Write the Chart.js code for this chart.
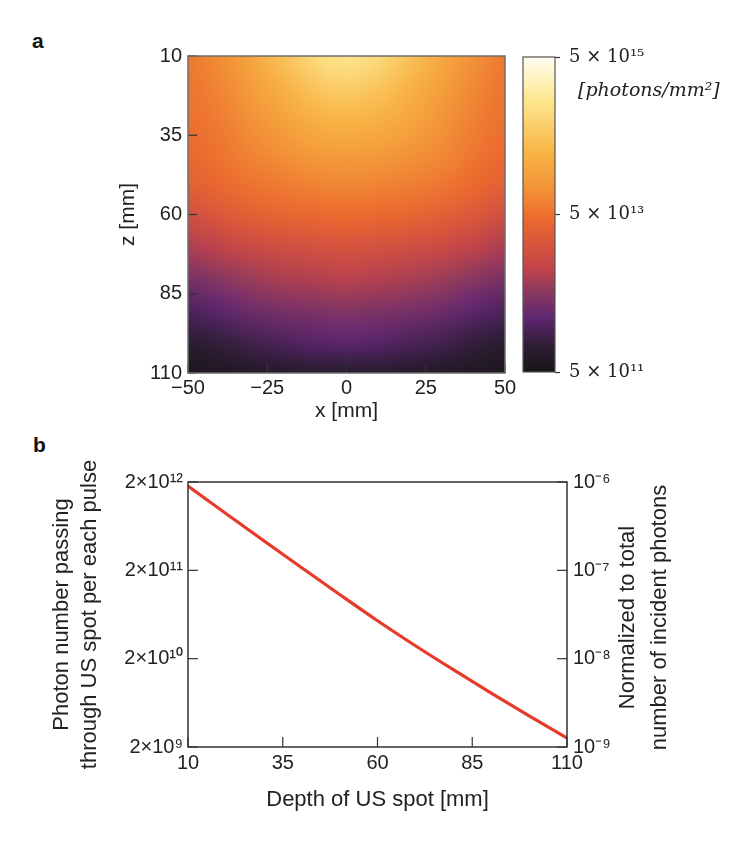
<!DOCTYPE html>
<html>
<head>
<meta charset="utf-8">
<script src="https://cdn.jsdelivr.net/npm/chart.js@4.4.0/dist/chart.umd.min.js"></script>
<style>
  html, body { margin: 0; padding: 0; background: #fff; }
  body { width: 748px; height: 842px; position: relative; overflow: hidden; }
  canvas { position: absolute; }
  .panel { position: absolute; font: bold 21px "Liberation Sans", Arial, sans-serif; line-height: 21px; color: #111; }
</style>
</head>
<body>
<div class="panel" style="left:32px;top:30px">a</div>
<div class="panel" style="left:33px;top:434px">b</div>
<canvas id="heat" width="530" height="430" style="left:0;top:0;width:530px;height:430px"></canvas>
<canvas id="cbar" width="233" height="430" style="left:515px;top:0;width:233px;height:430px"></canvas>
<canvas id="depth" width="748" height="412" style="left:0;top:430px;width:748px;height:412px"></canvas>
<script>
// panel a : fluence map, log10(photons/mm^2), rows = z, cols = x
var xCells = [-50, -40, -30, -20, -10, 0, 10, 20, 30, 40, 50];
var zCells = [10, 20, 30, 40, 50, 60, 70, 80, 90, 100, 110];
var logFluence = [
    [13.78, 13.98, 14.26, 14.66, 14.98, 15.14, 14.98, 14.66, 14.30, 14.02, 13.78],
    [13.74, 13.90, 14.14, 14.42, 14.70, 14.82, 14.70, 14.46, 14.18, 13.94, 13.74],
    [13.70, 13.82, 14.02, 14.22, 14.42, 14.50, 14.42, 14.26, 14.06, 13.86, 13.70],
    [13.62, 13.74, 13.90, 14.02, 14.14, 14.18, 14.14, 14.06, 13.94, 13.78, 13.62],
    [13.50, 13.62, 13.74, 13.82, 13.90, 13.94, 13.90, 13.86, 13.78, 13.66, 13.50],
    [13.22, 13.38, 13.50, 13.58, 13.62, 13.66, 13.62, 13.58, 13.50, 13.38, 13.22],
    [12.90, 13.02, 13.14, 13.22, 13.26, 13.30, 13.26, 13.22, 13.14, 13.02, 12.90],
    [12.58, 12.70, 12.82, 12.90, 12.94, 12.98, 12.94, 12.90, 12.82, 12.70, 12.58],
    [12.26, 12.38, 12.50, 12.58, 12.62, 12.66, 12.62, 12.58, 12.50, 12.38, 12.26],
    [11.98, 12.06, 12.18, 12.26, 12.34, 12.38, 12.34, 12.26, 12.18, 12.06, 11.98],
    [11.78, 11.82, 11.86, 11.90, 11.94, 11.94, 11.94, 11.90, 11.86, 11.82, 11.78]
];
var heatXTicks = [-50, -25, 0, 25, 50];
var heatZTicks = [10, 35, 60, 85, 110];
var cbTicks = [5e11, 5e13, 5e15];
var cbTickLabels = ['5 × 10¹¹', '5 × 10¹³', '5 × 10¹⁵'];

// panel b : photons through the US spot
var depthMm = [10, 20, 30, 40, 50, 60, 70, 80, 90, 100, 110];
var photonsPerPulse = [1.80e12, 8.80e11, 4.32e11, 2.14e11, 1.065e11, 5.37e10, 2.80e10, 1.50e10, 8.15e9, 4.50e9, 2.52e9];
var depthTicks = [10, 35, 60, 85, 110];
var photonTicks = [2e9, 2e10, 2e11, 2e12];
var photonTickLabels = ['2×10⁹', '2×10¹⁰', '2×10¹¹', '2×10¹²'];
var normTicks = [1e-9, 1e-8, 1e-7, 1e-6];
var normTickLabels = ['10⁻⁹', '10⁻⁸', '10⁻⁷', '10⁻⁶'];

// colour map (0 = bottom, 1 = top)
var cmapStops = [
    [0.00, [24, 20, 24]],
    [0.08, [45, 30, 52]],
    [0.17, [94, 38, 112]],
    [0.26, [142, 58, 94]],
    [0.33, [194, 68, 73]],
    [0.40, [214, 84, 62]],
    [0.49, [236, 107, 45]],
    [0.60, [243, 154, 58]],
    [0.70, [248, 181, 69]],
    [0.86, [253, 230, 143]],
    [1.00, [255, 253, 240]]
];
var cbLogMin = Math.log10(cbTicks[0]);
var cbLogMax = Math.log10(cbTicks[cbTicks.length - 1]);

function cmap(t) {
    t = Math.max(0, Math.min(1, t));
    for (var i = 1; i < cmapStops.length; i++) {
        if (t <= cmapStops[i][0]) {
            var t0 = cmapStops[i - 1][0], c0 = cmapStops[i - 1][1];
            var t1 = cmapStops[i][0], c1 = cmapStops[i][1];
            var f = (t - t0) / (t1 - t0);
            return c0.map(function(c, k) { return Math.round(c + (c1[k] - c) * f); });
        }
    }
    return cmapStops[cmapStops.length - 1][1];
}

var sans = '"Liberation Sans", Arial, sans-serif';
var serif = '"DejaVu Serif", serif';
var tickFont = { family: sans, size: 20 };
var titleFont = { family: sans, size: 22, lineHeight: 1.27 };
var textColor = '#222';

Chart.defaults.animation = false;
Chart.defaults.responsive = false;
Chart.defaults.events = [];
Chart.defaults.plugins.legend.display = false;
Chart.defaults.plugins.tooltip.enabled = false;

function eachScale(chart, fn) { Object.keys(chart.scales).forEach(function(k) { fn(chart.scales[k]); }); }

// box round the plot area plus ticks pointing inwards
var framePlugin = {
    id: 'frame',
    afterDatasetsDraw: function(chart, args, o) {
        var ctx = chart.ctx, a = chart.chartArea;
        ctx.save();
        ctx.strokeStyle = o.tickColor;
        ctx.lineWidth = o.tickWidth;
        eachScale(chart, function(s) {
            if (!s.options.display) return;
            s.ticks.forEach(function(t) {
                var p = s.getPixelForValue(t.value);
                ctx.beginPath();
                if (s.position === 'bottom') { ctx.moveTo(p, a.bottom); ctx.lineTo(p, a.bottom - o.len); }
                if (s.position === 'left') { ctx.moveTo(a.left, p); ctx.lineTo(a.left + o.len, p); }
                if (s.position === 'right') { ctx.moveTo(a.right, p); ctx.lineTo(a.right - o.len, p); }
                ctx.stroke();
            });
        });
        ctx.strokeStyle = o.color;
        ctx.lineWidth = o.width;
        ctx.strokeRect(a.left, a.top, a.right - a.left, a.bottom - a.top);
        ctx.restore();
    }
};

// fluence grid painted through the x / z scales
var heatmapPlugin = {
    id: 'heatmap',
    beforeDatasetsDraw: function(chart) {
        var ctx = chart.ctx, a = chart.chartArea, x = chart.scales.x, y = chart.scales.y;
        var pts = chart.data.datasets[0].data;
        var off = document.createElement('canvas');
        off.width = xCells.length;
        off.height = zCells.length;
        var octx = off.getContext('2d');
        var img = octx.createImageData(off.width, off.height);
        pts.forEach(function(p) {
            var i = xCells.indexOf(p.x), j = zCells.indexOf(p.y);
            var c = cmap((p.v - cbLogMin) / (cbLogMax - cbLogMin));
            var k = (j * off.width + i) * 4;
            img.data[k] = c[0]; img.data[k + 1] = c[1]; img.data[k + 2] = c[2]; img.data[k + 3] = 255;
        });
        octx.putImageData(img, 0, 0);
        var hx = (xCells[1] - xCells[0]) / 2, hz = (zCells[1] - zCells[0]) / 2;
        var x0 = x.getPixelForValue(xCells[0] - hx), x1 = x.getPixelForValue(xCells[xCells.length - 1] + hx);
        var y0 = y.getPixelForValue(zCells[0] - hz), y1 = y.getPixelForValue(zCells[zCells.length - 1] + hz);
        ctx.save();
        ctx.beginPath();
        ctx.rect(a.left, a.top, a.right - a.left, a.bottom - a.top);
        ctx.clip();
        ctx.imageSmoothingEnabled = true;
        ctx.imageSmoothingQuality = 'high';
        ctx.drawImage(off, x0, y0, x1 - x0, y1 - y0);
        ctx.restore();
    }
};

var heatPoints = [];
zCells.forEach(function(z, j) {
    xCells.forEach(function(xv, i) {
        heatPoints.push({ x: xv, y: z, v: logFluence[j][i] });
    });
});

new Chart(document.getElementById('heat'), {
    type: 'scatter',
    data: { datasets: [{ data: heatPoints, pointRadius: 0, pointHoverRadius: 0 }] },
    options: {
        layout: { padding: { top: 56, right: 25, left: 0, bottom: 0 } },
        plugins: { frame: { color: '#6e6e6e', width: 1.5, tickColor: '#333', tickWidth: 1.2, len: 9 } },
        scales: {
            x: {
                type: 'linear', min: -50, max: 50,
                afterBuildTicks: function(s) { s.ticks = heatXTicks.map(function(v) { return { value: v }; }); },
                afterFit: function(s) { s.height = 57; },
                grid: { display: false, drawTicks: false },
                border: { display: false },
                ticks: { padding: 3, font: tickFont, color: textColor, autoSkip: false, maxRotation: 0,
                    callback: function(v) { return String(v).replace('-', '−'); } },
                title: { display: true, text: 'x [mm]', font: { family: sans, size: 21 }, color: textColor, padding: { top: 0, bottom: 6 } }
            },
            y: {
                type: 'linear', min: 10, max: 110, reverse: true,
                afterBuildTicks: function(s) { s.ticks = heatZTicks.map(function(v) { return { value: v }; }); },
                afterFit: function(s) { s.width = 188; },
                grid: { display: false, drawTicks: false },
                border: { display: false },
                ticks: { padding: 6, font: tickFont, color: textColor, autoSkip: false },
                title: { display: true, text: 'z [mm]', font: { family: sans, size: 21 }, color: textColor, padding: { top: 116, bottom: 0 } }
            }
        }
    },
    plugins: [heatmapPlugin, framePlugin]
});

// colour bar
var colorbarPlugin = {
    id: 'colorbar',
    beforeDatasetsDraw: function(chart) {
        var ctx = chart.ctx, a = chart.chartArea, s = chart.scales.y;
        ctx.save();
        for (var py = Math.floor(a.top); py < a.bottom; py++) {
            var v = s.getValueForPixel(py + 0.5);
            var c = cmap((Math.log10(v) - cbLogMin) / (cbLogMax - cbLogMin));
            ctx.fillStyle = 'rgb(' + c.join(',') + ')';
            ctx.fillRect(a.left, py, a.right - a.left, 1);
        }
        ctx.strokeStyle = '#555';
        ctx.lineWidth = 1.2;
        ctx.strokeRect(a.left, a.top, a.right - a.left, a.bottom - a.top);
        ctx.font = 'italic 19px ' + serif;
        ctx.fillStyle = textColor;
        ctx.textBaseline = 'middle';
        ctx.fillText('[photons/mm²]', 63, 91);
        ctx.restore();
    }
};

new Chart(document.getElementById('cbar'), {
    type: 'bar',
    data: { labels: [''], datasets: [] },
    options: {
        layout: { padding: { left: 8, top: 57, bottom: 58, right: 0 } },
        scales: {
            x: { display: false },
            y: {
                type: 'logarithmic', position: 'right', min: cbTicks[0], max: cbTicks[cbTicks.length - 1],
                afterBuildTicks: function(s) { s.ticks = cbTicks.map(function(v) { return { value: v }; }); },
                afterFit: function(s) { s.width = 193; },
                grid: { drawOnChartArea: false, drawTicks: true, tickLength: 5, tickColor: '#333', tickWidth: 1.2 },
                border: { display: false },
                ticks: { padding: 9, font: { family: serif, size: 18 }, color: textColor, autoSkip: false,
                    callback: function(v) { return cbTickLabels[cbTicks.indexOf(v)]; } }
            }
        }
    },
    plugins: [colorbarPlugin]
});

// panel b
var rightTitlePlugin = {
    id: 'rightTitle',
    afterDraw: function(chart, args, o) {
        var ctx = chart.ctx, a = chart.chartArea;
        ctx.save();
        ctx.font = o.size + 'px ' + sans;
        ctx.fillStyle = textColor;
        ctx.textAlign = 'center';
        ctx.textBaseline = 'middle';
        ctx.translate(o.x, (a.top + a.bottom) / 2 + o.dy);
        ctx.rotate(-Math.PI / 2);
        o.lines.forEach(function(l, i) { ctx.fillText(l, 0, i * o.lineHeight); });
        ctx.restore();
    }
};

new Chart(document.getElementById('depth'), {
    type: 'line',
    data: {
        datasets: [{
            data: depthMm.map(function(d, i) { return { x: d, y: photonsPerPulse[i] }; }),
            borderColor: '#e83a2b',
            borderWidth: 3.2,
            pointRadius: 0,
            cubicInterpolationMode: 'monotone',
            yAxisID: 'y'
        }]
    },
    options: {
        layout: { padding: { top: 52, left: 0, right: 0, bottom: 0 } },
        plugins: {
            frame: { color: '#333', width: 1.5, tickColor: '#333', tickWidth: 1.2, len: 10 },
            rightTitle: { x: 628, dy: 3, size: 22, lineHeight: 32, lines: ['Normalized to total', 'number of incident photons'] }
        },
        scales: {
            x: {
                type: 'linear', min: 10, max: 110,
                afterBuildTicks: function(s) { s.ticks = depthTicks.map(function(v) { return { value: v }; }); },
                afterFit: function(s) { s.height = 95; },
                grid: { display: false, drawTicks: false },
                border: { display: false },
                ticks: { padding: 4, font: tickFont, color: textColor, autoSkip: false, maxRotation: 0 },
                title: { display: true, text: 'Depth of US spot [mm]', font: { family: sans, size: 22 }, color: textColor, padding: { top: 0, bottom: 29 } }
            },
            y: {
                type: 'logarithmic', position: 'left', min: photonTicks[0], max: photonTicks[photonTicks.length - 1],
                afterBuildTicks: function(s) { s.ticks = photonTicks.map(function(v) { return { value: v }; }); },
                afterFit: function(s) { s.width = 188; },
                grid: { display: false, drawTicks: false },
                border: { display: false },
                ticks: { padding: 5, font: tickFont, color: textColor, autoSkip: false,
                    callback: function(v) { return photonTickLabels[photonTicks.indexOf(v)]; } },
                title: { display: true, text: ['Photon number passing', 'through US spot per each pulse'], font: titleFont, color: textColor, padding: { top: 48, bottom: 0 } }
            },
            y2: {
                type: 'logarithmic', position: 'right', min: normTicks[0], max: normTicks[normTicks.length - 1],
                afterBuildTicks: function(s) { s.ticks = normTicks.map(function(v) { return { value: v }; }); },
                afterFit: function(s) { s.width = 181; },
                grid: { display: false, drawTicks: false },
                border: { display: false },
                ticks: { padding: 6, font: tickFont, color: textColor, autoSkip: false,
                    callback: function(v) { return normTickLabels[normTicks.indexOf(v)]; } }
            }
        }
    },
    plugins: [framePlugin, rightTitlePlugin]
});
</script>
</body>
</html>
